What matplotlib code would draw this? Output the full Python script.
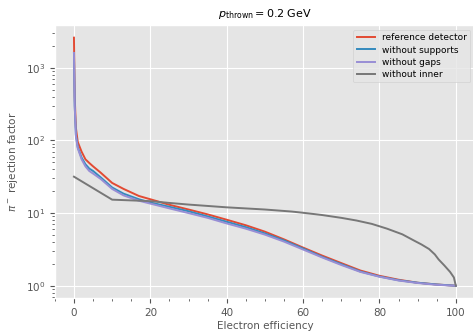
import matplotlib
matplotlib.use("Agg")
import matplotlib.pyplot as plt

plt.style.use("ggplot")

# efficiency points for the three similar curves
eff = [0, 0.2, 0.5, 1, 2, 3, 4, 5, 7, 10, 13, 17, 20, 25, 30, 35, 40, 45,
       50, 55, 60, 65, 70, 75, 80, 85, 90, 95, 100]
rej_reference = [2600, 400, 150, 95, 70, 55, 49, 44, 36, 26, 21.5, 17.2, 15.5,
                 13.0, 11.2, 9.6, 8.1, 6.8, 5.55, 4.35, 3.35, 2.6, 2.05, 1.62,
                 1.37, 1.21, 1.1, 1.04, 1.0]
rej_no_supports = [1600, 300, 120, 80, 58, 47, 41, 38, 31, 22.5, 18.5, 15.5, 14.0,
                   12.2, 10.6, 9.0, 7.6, 6.4, 5.25, 4.2, 3.25, 2.5, 1.98, 1.57,
                   1.34, 1.19, 1.1, 1.04, 1.0]
rej_no_gaps = [1600, 300, 115, 78, 55, 44, 38, 35, 29.5, 21.5, 17.5, 14.8, 13.5,
               11.6, 10.0, 8.6, 7.2, 6.1, 5.05, 4.05, 3.15, 2.45, 1.93, 1.55,
               1.33, 1.18, 1.09, 1.03, 1.0]

eff_inner = [0, 10, 20, 25, 30, 40, 50, 57, 60, 65, 70, 74, 78, 82, 86, 89,
             91, 93, 94.5, 95.5, 97, 98.5, 99.5, 100]
rej_no_inner = [31.7, 15.3, 14.6, 13.8, 13.1, 12.0, 11.2, 10.5, 10.1, 9.4, 8.6,
                7.9, 7.1, 6.1, 5.1, 4.2, 3.7, 3.2, 2.7, 2.3, 1.9, 1.55, 1.3, 1.0]

fig = plt.figure(figsize=(4.73, 3.32), dpi=100)
ax = fig.add_axes([0.116, 0.102, 0.888, 0.822])

ax.plot(eff, rej_reference, label="reference detector", lw=1.4)
ax.plot(eff, rej_no_supports, label="without supports", lw=1.4)
ax.plot(eff, rej_no_gaps, label="without gaps", lw=1.4)
ax.plot(eff_inner, rej_no_inner, label="without inner", lw=1.4)

ax.set_yscale("log")
ax.minorticks_on()
ax.grid(which="minor", visible=False)
ax.tick_params(labelsize=7.5)
ax.set_title(r"$p_{\rm thrown} = 0.2$ GeV", fontsize=8)
ax.set_xlabel("Electron efficiency", fontsize=7.5, labelpad=2)
ax.set_ylabel(r"$\pi^-$ rejection factor", fontsize=7.5)
ax.legend(loc="upper right", fontsize=6.5, labelspacing=0.35)

fig.savefig("out.png", dpi=100)
